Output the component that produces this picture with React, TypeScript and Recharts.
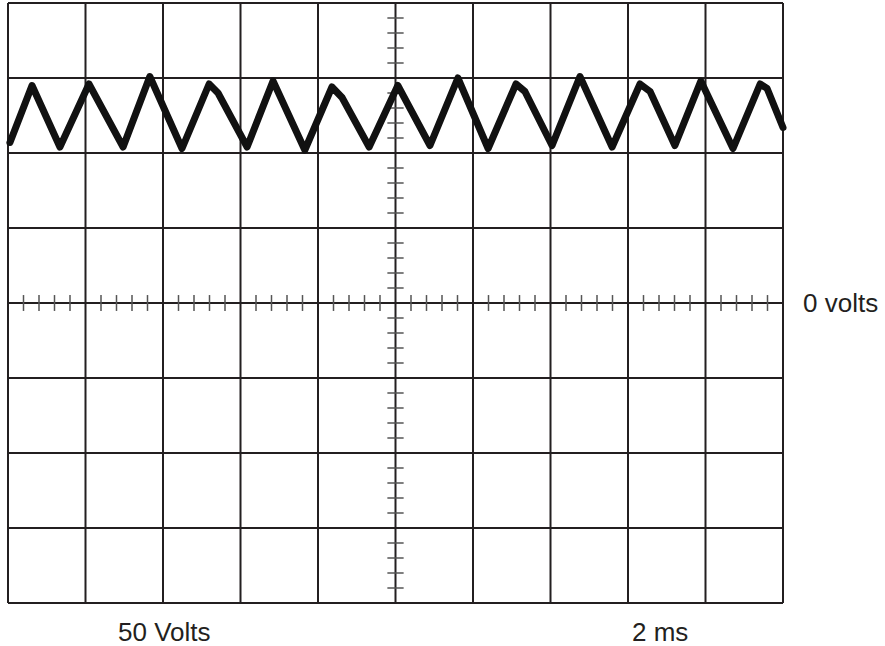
import React from 'react';
import { LineChart, Line, XAxis, YAxis, ReferenceLine } from 'recharts';

// waveform samples: time (ms) and voltage (V)
const timeMs = [0.05, 0.62, 1.34, 2.09, 2.97, 3.66, 4.49, 5.19, 5.42, 6.17, 6.84, 7.66, 8.36, 8.62, 9.32, 10.06, 10.89, 11.61, 12.39, 13.11, 13.34, 14.04, 14.76, 15.59, 16.31, 16.57, 17.21, 17.88, 18.71, 19.41, 19.59, 20.0];
const volts = [107, 145, 104, 146, 104, 151, 103, 146, 140, 104, 148, 102, 144, 137, 104, 145, 105, 150, 103, 146, 141, 105, 151, 104, 146, 141, 105, 148, 103, 146, 143, 117];

// grid divisions
const timeGrid = [0, 2, 4, 6, 8, 10, 12, 14, 16, 18, 20];
const voltGrid = [-200, -150, -100, -50, 0, 50, 100, 150, 200];
// minor ticks on center axes
const timeMinor = [0.4, 0.8, 1.2, 1.6, 2.4, 2.8, 3.2, 3.6, 4.4, 4.8, 5.2, 5.6, 6.4, 6.8, 7.2, 7.6, 8.4, 8.8, 9.2, 9.6, 10.4, 10.8, 11.2, 11.6, 12.4, 12.8, 13.2, 13.6, 14.4, 14.8, 15.2, 15.6, 16.4, 16.8, 17.2, 17.6, 18.4, 18.8, 19.2, 19.6];
const voltMinor = [-190, -180, -170, -160, -140, -130, -120, -110, -90, -80, -70, -60, -40, -30, -20, -10, 10, 20, 30, 40, 60, 70, 80, 90, 110, 120, 130, 140, 160, 170, 180, 190];

const data = timeMs.map((t, i) => ({ t, v: volts[i] }));

const GRID = '#231f20';
const TICK = '#555';
const FONT = '"Liberation Sans", Arial, sans-serif';

export default function App() {
  return (
    <div style={{ position: 'absolute', left: 0, top: 0, width: 885, height: 646, background: '#fff' }}>
      <LineChart width={885} height={646} data={data} margin={{ top: 3, right: 102, bottom: 43, left: 8 }}>
        <XAxis dataKey="t" type="number" domain={[0, 20]} hide />
        <YAxis type="number" domain={[-200, 200]} hide />
        {timeGrid.map((t) => (
          <ReferenceLine key={'tg' + t} x={t} stroke={GRID} strokeWidth={2} />
        ))}
        {voltGrid.map((v) => (
          <ReferenceLine
            key={'vg' + v}
            y={v}
            stroke={GRID}
            strokeWidth={2}
            label={v === 0 ? { value: '0 volts', position: 'right', offset: 20, fill: '#231f20', fontSize: 26, fontFamily: FONT } : undefined}
          />
        ))}
        {timeMinor.map((t) => (
          <ReferenceLine key={'tm' + t} segment={[{ x: t, y: -5.3 }, { x: t, y: 5.3 }]} stroke={TICK} strokeWidth={1.5} />
        ))}
        {voltMinor.map((v) => (
          <ReferenceLine key={'vm' + v} segment={[{ x: 9.79, y: v }, { x: 10.21, y: v }]} stroke={TICK} strokeWidth={1.5} />
        ))}
        <Line
          dataKey="v"
          type="linear"
          stroke="#111"
          strokeWidth={7}
          strokeLinejoin="round"
          strokeLinecap="round"
          dot={false}
          isAnimationActive={false}
        />
      </LineChart>
      <div style={{ position: 'absolute', left: 118, top: 619, fontFamily: FONT, fontSize: 26, lineHeight: '26px', color: '#231f20', whiteSpace: 'nowrap' }}>50 Volts</div>
      <div style={{ position: 'absolute', left: 632, top: 619, fontFamily: FONT, fontSize: 26, lineHeight: '26px', color: '#231f20', whiteSpace: 'nowrap' }}>2 ms</div>
    </div>
  );
}
